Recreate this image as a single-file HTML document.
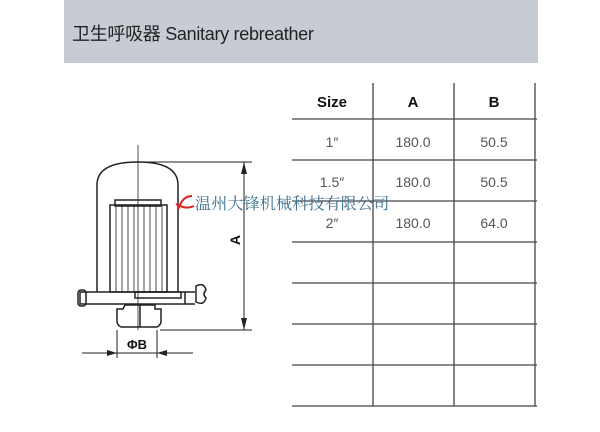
<!DOCTYPE html>
<html><head><meta charset="utf-8"><style>
body{margin:0;width:600px;height:432px;background:#fff;position:relative;overflow:hidden;font-family:"Liberation Sans","Noto Sans CJK SC",sans-serif}
.hdr{position:absolute;left:64px;top:0;width:474px;height:63px;background:#c7ccd4}
.hdr span{position:absolute;left:8px;top:20px;font-size:18px;color:#222;letter-spacing:-0.3px}
</style></head><body>
<div class="hdr"><span>卫生呼吸器 Sanitary rebreather</span></div>
<svg width="600" height="432" style="position:absolute;left:0;top:0" font-family="Liberation Sans, sans-serif">
<g stroke="#444" stroke-width="1.3" fill="none">
<line x1="373" y1="83" x2="373" y2="406"/><line x1="454" y1="83" x2="454" y2="406"/><line x1="535" y1="83" x2="535" y2="406"/>
<line x1="292" y1="119" x2="537" y2="119"/><line x1="292" y1="160" x2="537" y2="160"/><line x1="292" y1="201" x2="537" y2="201"/>
<line x1="292" y1="242" x2="537" y2="242"/><line x1="292" y1="283" x2="537" y2="283"/><line x1="292" y1="324" x2="537" y2="324"/>
<line x1="292" y1="365" x2="537" y2="365"/><line x1="292" y1="406" x2="537" y2="406"/>
</g>
<g font-size="15" text-anchor="middle" fill="#111">
<text x="332" y="107" font-weight="bold">Size</text><text x="413" y="107" font-weight="bold">A</text><text x="494" y="107" font-weight="bold">B</text>
</g>
<g font-size="14" text-anchor="middle" fill="#555">
<text x="332" y="147">1″</text><text x="413" y="147">180.0</text><text x="494" y="147">50.5</text>
<text x="332" y="187">1.5″</text><text x="413" y="187">180.0</text><text x="494" y="187">50.5</text>
<text x="332" y="228">2″</text><text x="413" y="228">180.0</text><text x="494" y="228">64.0</text>
</g>
<g stroke="#222" stroke-width="1.5" fill="none">
<line x1="138" y1="145" x2="138" y2="330" stroke-width="0.8"/>
<path d="M97,292 V185 Q97,162 138,162 Q178,162 178,185 V292"/>
<rect x="110" y="205" width="57" height="87"/>
<rect x="115" y="200" width="46" height="6"/>
<g stroke-width="0.8"><line x1="116" y1="206" x2="116" y2="292"/><line x1="122" y1="206" x2="122" y2="292"/><line x1="128" y1="206" x2="128" y2="292"/><line x1="134" y1="206" x2="134" y2="292"/><line x1="144" y1="206" x2="144" y2="292"/><line x1="150" y1="206" x2="150" y2="292"/><line x1="156" y1="206" x2="156" y2="292"/><line x1="162" y1="206" x2="162" y2="292"/></g>
<rect x="80" y="292" width="105" height="12"/>
<rect x="78" y="290" width="8" height="16" rx="3"/>
<path d="M185,292 h10 M185,304 h10"/>
<path d="M196,286 q8,-4 10,4 q-4,4 0,8 q-2,8 -10,4 z"/>
<rect x="135" y="292" width="46" height="6"/>
<path d="M125,305 h30 v4 h6 v12 q0,4 -4,6 h-36 q-4,-2 -4,-6 v-12 h6 z"/>
<line x1="140" y1="305" x2="140" y2="327"/>
<line x1="140" y1="162" x2="252" y2="162" stroke-width="1"/>
<line x1="160" y1="330" x2="252" y2="330" stroke-width="1"/>
<line x1="244" y1="162" x2="244" y2="330" stroke-width="1"/>
<line x1="117" y1="330" x2="117" y2="358" stroke-width="1"/>
<line x1="157" y1="330" x2="157" y2="358" stroke-width="1"/>
<line x1="82" y1="353" x2="193" y2="353" stroke-width="1"/>
</g>
<g fill="#222">
<path d="M244,162 l-3,12 h6 z"/><path d="M244,330 l-3,-12 h6 z"/>
<path d="M117,353 l-10,-3 v6 z"/><path d="M157,353 l10,-3 v6 z"/>
</g>
<text x="137" y="349" font-size="13" font-weight="bold" text-anchor="middle" fill="#111">ΦB</text>
<text transform="translate(240,240) rotate(-90)" font-size="14" font-weight="bold" text-anchor="middle" fill="#111">A</text>
<path d="M178,210 q4,-14 14,-14 M176,204 q10,6 18,2" stroke="#d22" stroke-width="2" fill="none"/>
<text x="195" y="209" font-size="16" fill="#3a6f90" font-family="Noto Serif CJK SC, serif" letter-spacing="0.2">温州大锋机械科技有限公司</text>
</svg>
</body></html>
